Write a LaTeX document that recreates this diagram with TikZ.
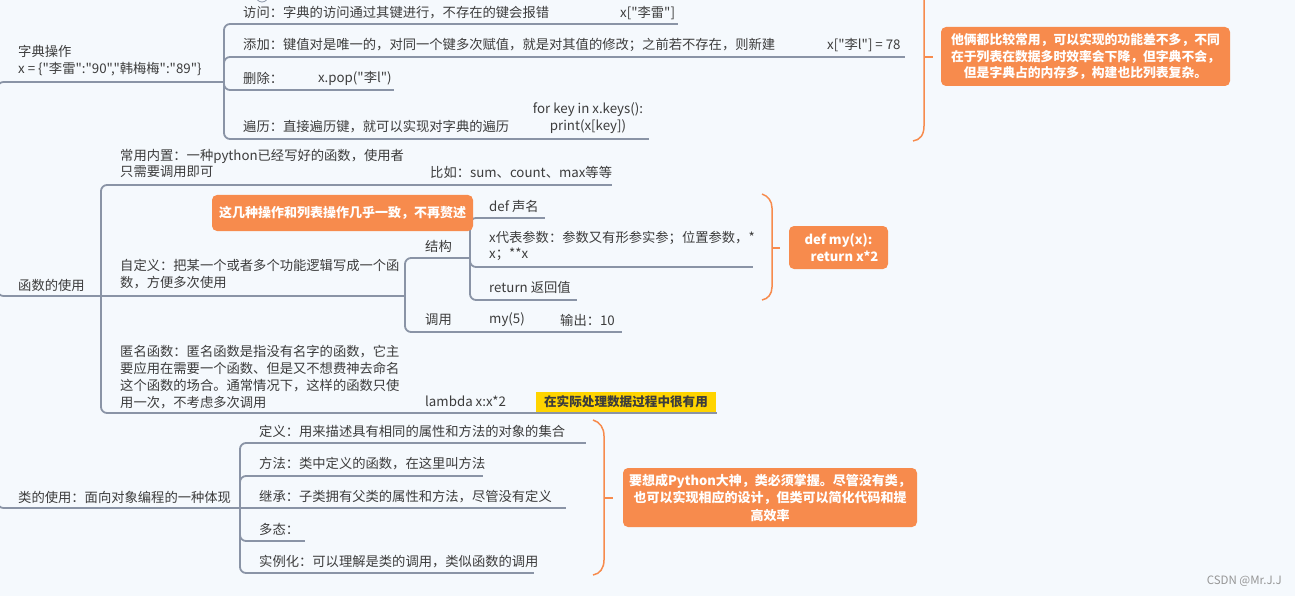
\documentclass[tikz,border=0pt]{standalone}
\usepackage{fontspec}
\setmainfont{Noto Sans CJK SC}
\newfontfamily\cjkf{Noto Sans CJK SC}
\definecolor{bg}{RGB}{245,249,253}
\definecolor{ln}{RGB}{138,148,166}
\definecolor{tx}{RGB}{60,60,60}
\definecolor{org}{RGB}{247,139,77}
\definecolor{ylw}{RGB}{255,212,0}
\definecolor{wmk}{RGB}{150,150,150}
\begin{document}
\begin{tikzpicture}[x=1pt,y=-1pt,
  conn/.style={draw=ln,line width=1.8pt,rounded corners=6pt},
  ul/.style={draw=ln,line width=1.8pt},
  txt/.style={anchor=west,inner sep=0pt,text=tx,align=left,font=\cjkf\fontsize{13.3}{16.8}\selectfont},
  ctxt/.style={inner sep=0pt,text=tx,align=center,font=\cjkf\fontsize{13.3}{16.8}\selectfont},
  callout/.style={fill=org,rounded corners=5pt,text=white,align=center,inner sep=0pt,font=\cjkf\bfseries\fontsize{13}{16.5}\selectfont},
  ylabel/.style={fill=ylw,text=tx,inner sep=0pt,font=\cjkf\bfseries\fontsize{12.6}{15}\selectfont},
  bracestyle/.style={draw=org,line width=1.5pt},
  wm/.style={anchor=east,inner sep=0pt,text=wmk,font=\cjkf\fontsize{11.5}{13}\selectfont}]
\useasboundingbox (0,0) rectangle (1295,596);
\fill[bg] (0,0) rectangle (1295,596);

% ---------- coordinates ----------
\coordinate (root) at (-2.5,200);
% dict
\coordinate (dict-l) at (10,82);   \coordinate (dict-r) at (224,82);
\coordinate (acc-l) at (236,24);   \coordinate (acc-r) at (600,24);   \coordinate (accx-r) at (678,24);
\coordinate (add-l) at (236,57);   \coordinate (add-r) at (805,57);   \coordinate (addx-r) at (905,57);
\coordinate (del-l) at (236,90);   \coordinate (del-r) at (305,90);   \coordinate (delx-r) at (394,90);
\coordinate (trav-l) at (236,139); \coordinate (trav-r) at (515,139); \coordinate (travx-r) at (649,139);
% functions
\coordinate (func-l) at (10,296);  \coordinate (func-r) at (101,296);
\coordinate (bi-l) at (113,185);   \coordinate (bi-r) at (420,185);   \coordinate (bix-r) at (612,185);
\coordinate (cust-l) at (113,296); \coordinate (cust-r) at (405,296);
\coordinate (st-l) at (417,258);   \coordinate (st-r) at (470,258);
\coordinate (def-l) at (482,218);  \coordinate (def-r) at (545,218);
\coordinate (xp-l) at (482,267);   \coordinate (xp-r) at (753,267);
\coordinate (ret-l) at (482,300);  \coordinate (ret-r) at (577,300);
\coordinate (call-l) at (417,332); \coordinate (call-r) at (470,332);
\coordinate (my-r) at (548,332);   \coordinate (out-r) at (622,332);
\coordinate (anon-l) at (113,413); \coordinate (anon-r) at (410,413);
\coordinate (lam-r) at (717,413);
% class
\coordinate (cls-l) at (10,508);   \coordinate (cls-r) at (240,508);
\coordinate (c1-l) at (252,443);   \coordinate (c1-r) at (586,443);
\coordinate (c2-l) at (252,476);   \coordinate (c2-r) at (483,476);
\coordinate (c3-l) at (252,508);   \coordinate (c3-r) at (566,508);
\coordinate (c4-l) at (252,541);   \coordinate (c4-r) at (305,541);
\coordinate (c5-l) at (252,573);   \coordinate (c5-r) at (534,573);

% ---------- connectors ----------
\draw[conn] (root) |- (dict-l);
\draw[conn] (root) |- (func-l);
\draw[conn] (root) |- (cls-l);
\draw[ul] (dict-l) -- (dict-r);
\draw[ul] (func-l) -- (func-r);
\draw[ul] (cls-l) -- (cls-r);

\draw[conn] (dict-r) |- (acc-l);
\draw[conn] (dict-r) |- (add-l);
\draw[conn] (dict-r) |- (del-l);
\draw[conn] (dict-r) |- (trav-l);
\draw[ul] (acc-l) -- (acc-r) -- (accx-r);
\draw[ul] (add-l) -- (add-r) -- (addx-r);
\draw[ul] (del-l) -- (del-r) -- (delx-r);
\draw[ul] (trav-l) -- (trav-r) -- (travx-r);

\draw[conn] (func-r) |- (bi-l);
\draw[conn] (func-r) -- (cust-l);
\draw[conn] (func-r) |- (anon-l);
\draw[ul] (bi-l) -- (bi-r) -- (bix-r);
\draw[ul] (cust-l) -- (cust-r);
\draw[ul] (anon-l) -- (anon-r) -- (lam-r);

\draw[conn] (cust-r) |- (st-l);
\draw[conn] (cust-r) |- (call-l);
\draw[ul] (st-l) -- (st-r);
\draw[ul] (call-l) -- (call-r) -- (my-r) -- (out-r);
\draw[conn] (st-r) |- (def-l);
\draw[conn] (st-r) |- (xp-l);
\draw[conn] (st-r) |- (ret-l);
\draw[ul] (def-l) -- (def-r);
\draw[ul] (xp-l) -- (xp-r);
\draw[ul] (ret-l) -- (ret-r);

\draw[conn] (cls-r) |- (c1-l);
\draw[conn] (cls-r) |- (c2-l);
\draw[conn] (cls-r) -- (c3-l);
\draw[conn] (cls-r) |- (c4-l);
\draw[conn] (cls-r) |- (c5-l);
\draw[ul] (c1-l) -- (c1-r);
\draw[ul] (c2-l) -- (c2-r);
\draw[ul] (c3-l) -- (c3-r);
\draw[ul] (c4-l) -- (c4-r);
\draw[ul] (c5-l) -- (c5-r);

% ---------- texts ----------
\node[txt] (dict) at (18,61) {字典操作\\x = \{"李雷":"90","韩梅梅":"89"\}};
\node[txt] (acc) at (243,13) {访问：字典的访问通过其键进行，不存在的键会报错};
\node[txt] (accx) at (620,13) {x["李雷"]};
\node[txt] (add) at (243,45) {添加：键值对是唯一的，对同一个键多次赋值，就是对其值的修改；之前若不存在，则新建};
\node[txt] (addx) at (827,45) {x["李l"] = 78};
\node[txt] (del) at (243,78) {删除：};
\node[txt] (delx) at (318,78) {x.pop("李l")};
\node[txt] (trav) at (243,127) {遍历：直接遍历键，就可以实现对字典的遍历};
\node[ctxt] (travx) at (588,118) {for key in x.keys():\\print(x[key])};

\node[txt] (func) at (18,285) {函数的使用};
\node[txt] (bi) at (120,163.5) {常用内置：一种python已经写好的函数，使用者\\只需要调用即可};
\node[txt] (bix) at (430,172) {比如：sum、count、max等等};
\node[txt] (cust) at (120,274) {自定义：把某一个或者多个功能逻辑写成一个函\\数，方便多次使用};
\node[txt] (st) at (425,246) {结构};
\node[txt] (def) at (489,206) {def 声名};
\node[txt] (xp) at (489,246) {x代表参数：参数又有形参实参；位置参数，*\\x；**x};
\node[txt] (ret) at (489,287) {return 返回值};
\node[txt] (call) at (425,320) {调用};
\node[txt] (my) at (489,320) {my(5)};
\node[txt] (out) at (560,320) {输出：10};
\node[txt] (anon) at (120,377) {匿名函数：匿名函数是指没有名字的函数，它主\\要应用在需要一个函数、但是又不想费神去命名\\这个函数的场合。通常情况下，这样的函数只使\\用一次，不考虑多次调用};
\node[txt] (lam) at (425,401) {lambda x:x*2};
\node[ylabel, minimum width=180pt, minimum height=20pt] (lamnote) at (626,402) {在实际处理数据过程中很有用};

\node[txt] (cls) at (18,497) {类的使用：面向对象编程的一种体现};
\node[txt] (c1) at (259,431) {定义：用来描述具有相同的属性和方法的对象的集合};
\node[txt] (c2) at (259,464) {方法：类中定义的函数，在这里叫方法};
\node[txt] (c3) at (259,497) {继承：子类拥有父类的属性和方法，尽管没有定义};
\node[txt] (c4) at (259,529) {多态：};
\node[txt] (c5) at (259,562) {实例化：可以理解是类的调用，类似函数的调用};

% ---------- callouts ----------
\node[callout, minimum width=261pt, minimum height=36pt] (cb1) at (342.5,213) {这几种操作和列表操作几乎一致，不再赘述};
\node[callout, minimum width=289pt, minimum height=59pt, font=\cjkf\bfseries\fontsize{12.8}{16.3}\selectfont] (cb2) at (1085.5,56.5) {他俩都比较常用，可以实现的功能差不多，不同\\在于列表在数据多时效率会下降，但字典不会，\\但是字典占的内存多，构建也比列表复杂。};
\node[callout, minimum width=99pt, minimum height=43pt] (cb3) at (838.5,247.5) {def my(x):\\\hspace*{12pt}return x*2};
\node[callout, minimum width=294pt, minimum height=59pt, font=\cjkf\bfseries\fontsize{13}{17.5}\selectfont] (cb4) at (770,497.5) {要想成Python大神，类必须掌握。尽管没有类，\\也可以实现相应的设计，但类可以简化代码和提\\高效率};

% ---------- braces ----------
\draw[bracestyle] (913,-26) .. controls (920,-24) and (924,-18) .. (924,-8) -- (924,126) .. controls (924,135) and (920,140) .. (913,141);
\draw[bracestyle] (924,57) -- (933,57);
\draw[bracestyle] (762,194) .. controls (768,196) and (772,201) .. (772,208) -- (772,287) .. controls (772,294) and (768,299) .. (762,300);
\draw[bracestyle] (772,248) -- (780,248);
\draw[bracestyle] (593,420) .. controls (600,422) and (604,428) .. (604,436) -- (604,560) .. controls (604,568) and (600,574) .. (593,575);
\draw[bracestyle] (604,498) -- (613,498);

% small collapsed-marker circle at the top edge
\draw[ln, line width=0.8pt] (262,-4) circle (6);

\node[wm] (wmark) at (1282,581) {CSDN @Mr.J.J};
\end{tikzpicture}
\end{document}
